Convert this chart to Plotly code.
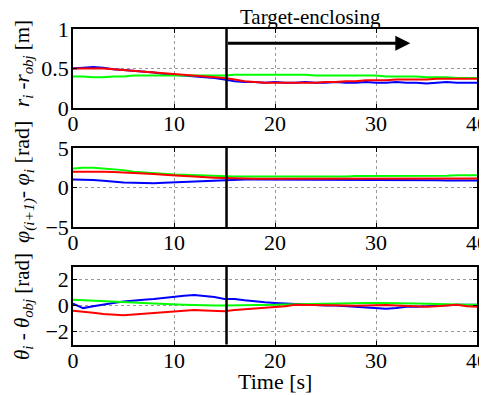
import plotly.graph_objects as go

t = list(range(41))

r_blue = [0.50,0.51,0.52,0.51,0.49,0.48,0.47,0.46,0.45,0.43,0.42,0.41,0.40,0.39,0.38,0.36,0.34,0.33,0.33,0.32,0.33,
          0.32,0.32,0.33,0.32,0.32,0.33,0.32,0.32,0.33,0.32,0.32,0.33,0.32,0.32,0.31,0.32,0.33,0.32,0.32,0.32]
r_green = [0.40,0.40,0.39,0.39,0.40,0.40,0.41,0.41,0.41,0.41,0.41,0.41,0.41,0.41,0.41,0.41,0.42,0.42,0.42,0.42,0.42,
           0.42,0.42,0.42,0.41,0.41,0.41,0.41,0.41,0.41,0.41,0.40,0.40,0.40,0.40,0.39,0.39,0.39,0.38,0.38,0.38]
r_red = [0.50,0.50,0.50,0.50,0.49,0.48,0.47,0.46,0.45,0.44,0.43,0.42,0.41,0.40,0.39,0.38,0.36,0.34,0.33,0.32,0.32,
         0.32,0.32,0.32,0.32,0.33,0.33,0.34,0.34,0.35,0.35,0.35,0.36,0.36,0.36,0.36,0.37,0.37,0.37,0.37,0.37]

phi_blue = [1.0,1.0,0.95,0.85,0.7,0.62,0.6,0.55,0.55,0.6,0.65,0.72,0.8,0.88,0.93,0.97,1.0,1.0,1.0,1.0,1.0,
            1.0,1.0,1.0,1.0,1.0,1.0,1.0,1.0,1.0,1.0,0.98,0.97,0.95,0.95,0.93,0.92,0.9,0.9,0.88,0.88]
phi_green = [2.4,2.5,2.5,2.4,2.3,2.2,2.0,1.9,1.8,1.7,1.65,1.6,1.55,1.5,1.45,1.4,1.4,1.4,1.4,1.4,1.4,
             1.4,1.4,1.35,1.35,1.35,1.4,1.4,1.45,1.45,1.5,1.5,1.5,1.5,1.5,1.5,1.5,1.5,1.55,1.55,1.55]
phi_red = [2.0,2.0,2.05,2.0,1.95,1.9,1.85,1.75,1.7,1.6,1.5,1.45,1.4,1.3,1.25,1.2,1.15,1.1,1.1,1.1,1.1,
           1.1,1.1,1.1,1.1,1.1,1.1,1.1,1.1,1.1,1.1,1.12,1.12,1.12,1.13,1.13,1.14,1.14,1.15,1.15,1.15]

th_blue = [0.15,-0.2,-0.05,0.1,0.2,0.3,0.4,0.45,0.5,0.6,0.7,0.75,0.8,0.75,0.65,0.5,0.5,0.4,0.3,0.25,0.2,
           0.15,0.1,0.1,0.05,0.0,0.0,-0.05,-0.05,-0.15,-0.2,-0.25,-0.2,-0.1,-0.1,-0.05,0.0,0.0,0.05,0.05,0.05]
th_green = [0.45,0.42,0.4,0.35,0.3,0.3,0.25,0.2,0.15,0.1,0.05,0.05,0.03,0.0,0.0,0.0,0.0,0.0,0.02,0.05,0.05,
            0.08,0.1,0.12,0.13,0.13,0.15,0.15,0.18,0.2,0.2,0.2,0.2,0.18,0.15,0.13,0.13,0.1,0.08,0.05,0.05]
th_red = [-0.4,-0.45,-0.55,-0.65,-0.7,-0.75,-0.7,-0.65,-0.6,-0.55,-0.5,-0.4,-0.35,-0.38,-0.4,-0.45,-0.35,-0.3,-0.2,-0.15,-0.1,
          -0.05,0.05,0.05,0.05,0.05,0.03,0.0,-0.02,0.0,0.05,0.03,0.0,-0.05,-0.08,-0.1,-0.05,0.0,0.05,-0.05,-0.1]

x_ticks = [0, 10, 20, 30, 40]
y1_ticks = [0, 0.5, 1]
y2_ticks = [-5, 0, 5]
y3_ticks = [-2, 0, 2]
switch_time = 15.2
arrow_end = 33.4

colors = {"blue": "#0000ff", "green": "#00ff00", "red": "#ff0000"}
FONT = "Liberation Serif, Times New Roman, serif"

# the page body has an 8px margin: the figure is drawn from (8, 8)
OFF = 8
W, H = 487 - OFF, 395 - OFF
LEFT_PX, RIGHT_PX = 73, 477          # plot edges in window pixels
ML, MR = LEFT_PX - OFF, W - (RIGHT_PX - OFF)
PW = W - ML - MR


def px_x(px):
    return (px - OFF - ML) / PW


def px_y(py):
    return 1 - (py - OFF) / H


fig = go.Figure()
panels = [
    ("x", "y", [r_blue, r_green, r_red]),
    ("x2", "y2", [phi_blue, phi_green, phi_red]),
    ("x3", "y3", [th_blue, th_green, th_red]),
]
for xa, ya, series in panels:
    for s, c in zip(series, ["blue", "green", "red"]):
        fig.add_trace(go.Scatter(x=t, y=s, mode="lines", xaxis=xa, yaxis=ya,
                                 line=dict(color=colors[c], width=2), showlegend=False))

domains = [[px_y(108), px_y(29)], [px_y(227), px_y(148)], [px_y(344.5), px_y(266.5)]]
yranges = [[0, 1], [-5, 5], [-3, 3]]
yticks = [y1_ticks, y2_ticks, y3_ticks]

common_axis = dict(showline=True, linecolor="black", linewidth=1.5, mirror="ticks",
                   ticks="inside", ticklen=4, tickcolor="black", automargin=False,
                   showgrid=True, gridcolor="#999999", griddash="dot", gridwidth=1,
                   zeroline=False, ticklabeloverflow="allow",
                   tickfont=dict(family=FONT, size=22, color="black"))

layout = dict(width=W, height=H, margin=dict(l=ML, r=MR, t=0, b=0, autoexpand=False),
              plot_bgcolor="white", paper_bgcolor="white", font=dict(family=FONT, color="black"))
for i in range(3):
    sx = "" if i == 0 else str(i + 1)
    layout["xaxis" + sx] = dict(domain=[0, 1], range=[0, 40], tickvals=x_ticks,
                                anchor="y" + sx, ticklabelstandoff=-5, **common_axis)
    layout["yaxis" + sx] = dict(domain=domains[i], range=yranges[i], tickvals=yticks[i],
                                anchor="x" + sx, ticklabelstandoff=-2, **common_axis)
fig.update_layout(**layout)

for i in range(3):
    sx = "" if i == 0 else str(i + 1)
    fig.add_shape(type="line", xref="x" + sx, yref="y" + sx + " domain",
                  x0=switch_time, x1=switch_time, y0=0, y1=1,
                  line=dict(color="black", width=2.5))

# arrow
fig.add_annotation(x=arrow_end, y=0.82, ax=switch_time, ay=0.82, xref="x", yref="y",
                   axref="x", ayref="y", showarrow=True, arrowhead=2, arrowsize=1,
                   arrowwidth=3, arrowcolor="black", text="")
fig.add_annotation(x=23.5, y=px_y(17), xref="x", yref="paper", text="Target-enclosing",
                   showarrow=False, xanchor="center", yanchor="middle", borderpad=0,
                   font=dict(family=FONT, size=21, color="black"))

ytitles = [
    ("<i>r<sub>i</sub></i> -<i>r<sub>obj</sub></i> [m]", 64, 21),
    ("<i>φ<sub>(i+1)</sub></i>- <i>φ<sub>i</sub></i> [rad]", 182, 22),
    ("<i>θ<sub>i</sub></i> - <i>θ<sub>obj</sub></i> [rad]", 307, 21),
]
for txt, ypx, fs in ytitles:
    fig.add_annotation(x=px_x(23), y=px_y(ypx), xref="paper", yref="paper",
                       text=txt, textangle=-90, showarrow=False,
                       xanchor="center", yanchor="middle",
                       font=dict(family=FONT, size=fs, color="black"))

fig.add_annotation(x=20, y=px_y(381), xref="x3", yref="paper", text="Time [s]",
                   showarrow=False, xanchor="center", yanchor="middle",
                   font=dict(family=FONT, size=22, color="black"))

fig.write_html("out.html")
